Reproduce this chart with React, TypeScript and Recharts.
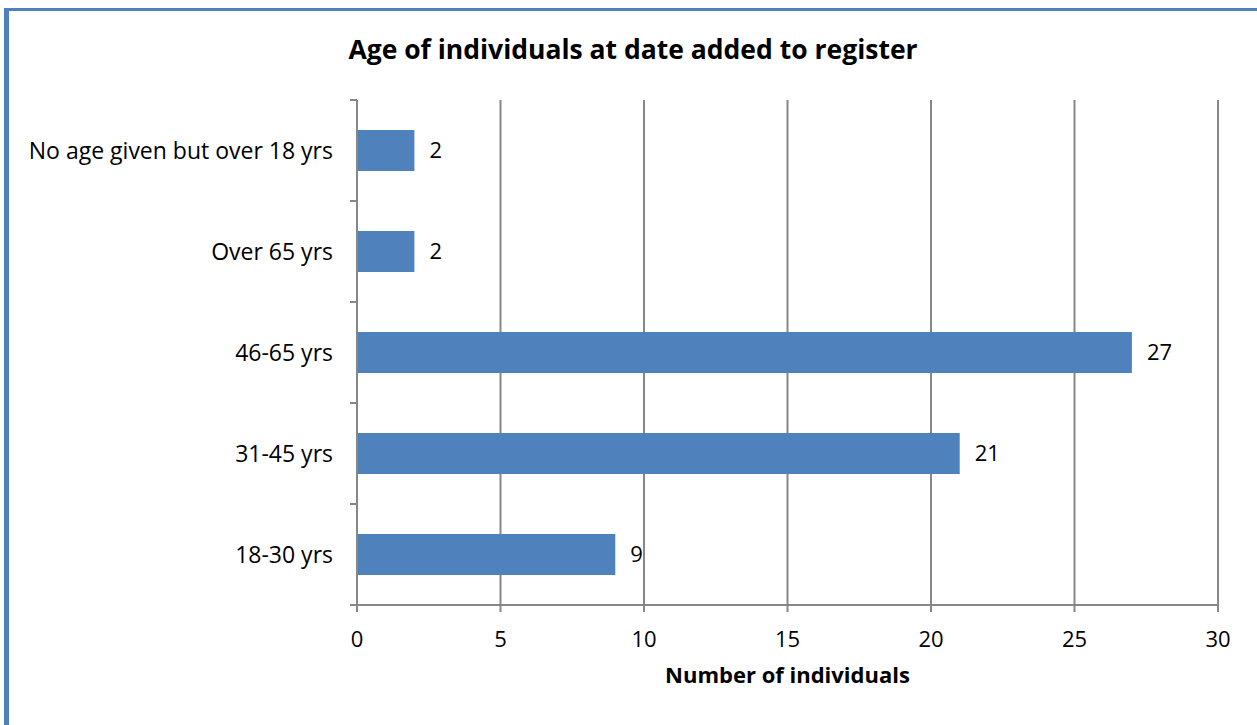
import React from 'react';
import { BarChart, Bar, XAxis, YAxis, CartesianGrid, LabelList, Label } from 'recharts';

// Age bands, listed top to bottom as they appear on the chart
const ageGroups = [
  'No age given but over 18 yrs',
  'Over 65 yrs',
  '46-65 yrs',
  '31-45 yrs',
  '18-30 yrs',
];
const individuals = [2, 2, 27, 21, 9];
const countTicks = [0, 5, 10, 15, 20, 25, 30];

const rows = ageGroups.map((age, i) => ({ age, count: individuals[i] }));

const FONT = '"Open Sans", Lato, sans-serif';
const GRID = '#878787';
const BAR = '#4f81bd';
const TICK_LEN = 7;
const LABEL_GAP = 17;

// Category name plus tick marks on the band edges (above each band, and
// below the last one)
function BandTick(props: any) {
  const { x, y, payload, index, visibleTicksCount } = props;
  const half = payload.offset ?? 0;
  const isLast = index === visibleTicksCount - 1;
  return (
    <g>
      <line x1={x - TICK_LEN} x2={x} y1={y - half} y2={y - half} stroke={GRID} strokeWidth={2} />
      {isLast && (
        <line x1={x - TICK_LEN} x2={x} y1={y + half} y2={y + half} stroke={GRID} strokeWidth={2} />
      )}
      <text
        x={x - TICK_LEN - LABEL_GAP}
        y={y}
        dy="0.355em"
        textAnchor="end"
        fill="#000"
        fontSize={23}
        fontFamily={FONT}
      >
        {payload.value}
      </text>
    </g>
  );
}

export default function App() {
  return (
    <div
      style={{
        position: 'absolute',
        left: 0,
        top: 0,
        width: 1257,
        height: 725,
        background: '#fff',
        fontFamily: FONT,
      }}
    >
      {/* frame */}
      <div
        style={{
          position: 'absolute',
          left: 4,
          top: 8,
          right: 0,
          bottom: 0,
          borderTop: `3px solid ${BAR}`,
          borderLeft: `5px solid ${BAR}`,
        }}
      />
      <div
        style={{
          position: 'absolute',
          left: 0,
          top: 31,
          width: 1266,
          textAlign: 'center',
          fontWeight: 700,
          fontSize: 26.5,
          lineHeight: '36px',
          color: '#000',
        }}
      >
        Age of individuals at date added to register
      </div>
      <div style={{ position: 'absolute', left: 0, top: 0 }}>
        <BarChart
          width={1257}
          height={725}
          data={rows}
          layout="vertical"
          margin={{ top: 100, right: 39, bottom: 70, left: 0 }}
        >
          <CartesianGrid horizontal={false} stroke={GRID} strokeWidth={2} />
          <YAxis
            type="category"
            dataKey="age"
            width={357}
            stroke={GRID}
            strokeWidth={2}
            tickLine={false}
            tickSize={0}
            tickMargin={0}
            interval={0}
            tick={<BandTick />}
          />
          <XAxis
            type="number"
            domain={[0, 30]}
            ticks={countTicks}
            tickSize={7}
            tickMargin={19}
            height={50}
            stroke={GRID}
            strokeWidth={2}
            tick={{ fill: '#000', fontSize: 22, fontFamily: FONT }}
          >
            <Label
              value="Number of individuals"
              position="bottom"
              offset={12}
              style={{ fill: '#000', fontWeight: 700, fontSize: 22, fontFamily: FONT }}
            />
          </XAxis>
          <Bar dataKey="count" fill={BAR} barSize={41} isAnimationActive={false}>
            <LabelList
              dataKey="count"
              position="right"
              offset={15}
              style={{ fill: '#000', fontSize: 22, fontFamily: FONT }}
            />
          </Bar>
        </BarChart>
      </div>
    </div>
  );
}
